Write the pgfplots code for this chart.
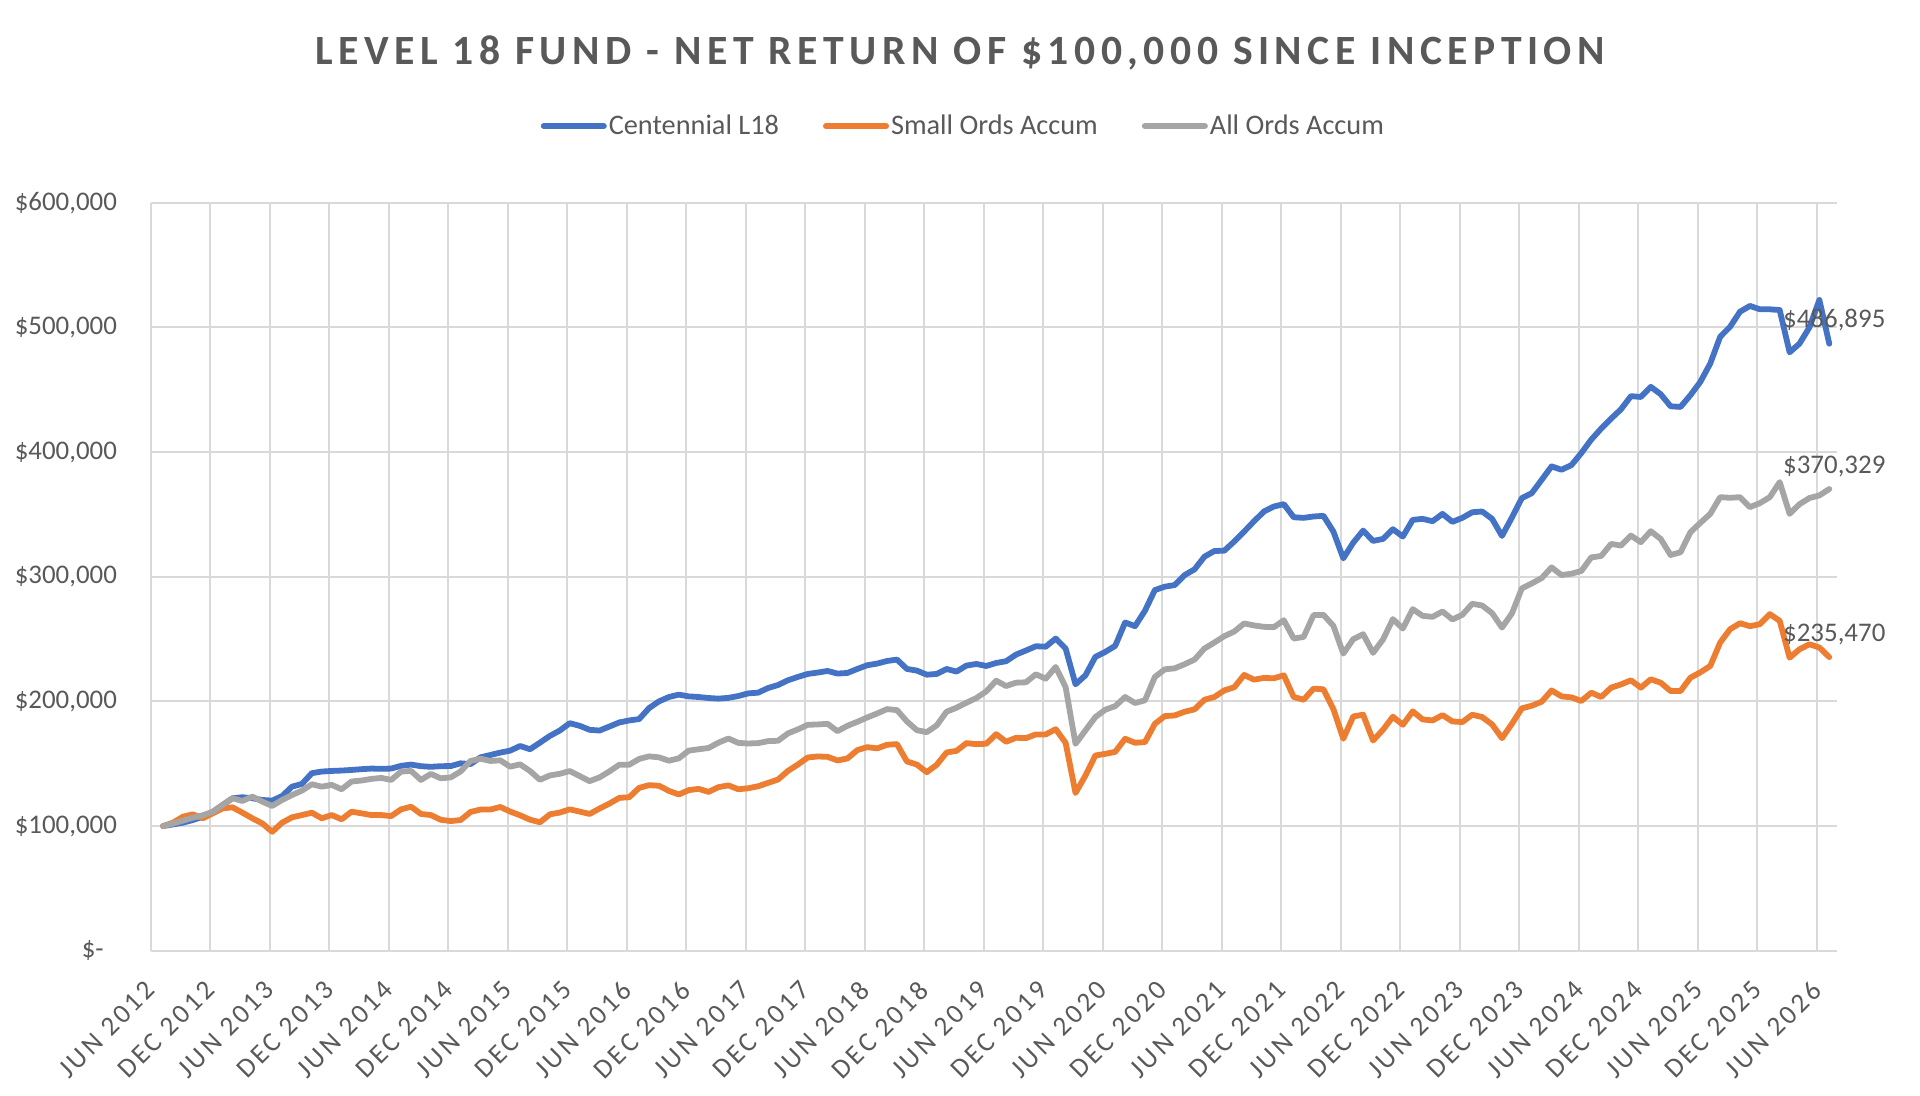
\documentclass[border=0pt]{standalone}
\usepackage{fontspec}
\setmainfont{Carlito}
\newfontfamily\spacedfont[LetterSpace=11]{Carlito}
\newfontfamily\titlefont[LetterSpace=13.2]{Carlito}
\usepackage{pgfplots}
\usepackage{pgfplotstable}
\pgfplotsset{compat=1.18}
\definecolor{cblue}{HTML}{4472C4}
\definecolor{corange}{HTML}{ED7D31}
\definecolor{cgray}{HTML}{A5A5A5}
\definecolor{cgrid}{HTML}{D9D9D9}
\definecolor{ctext}{HTML}{595959}

\pgfplotstableread{
k cen small all
0 100 100 100
1 101.3 102.7 102
2 102.7 107.5 104.3
3 104.8 109.4 106.7
4 107.5 106.2 108.6
5 111.3 110.2 111.5
6 116.9 114.2 116.9
7 122.3 115 122.3
8 123.1 110.7 120.1
9 122.3 106.2 123.6
10 120.9 102.1 119.6
11 120.4 95.4 116.1
12 124.1 102.7 120.9
13 131.6 107 124.9
14 133.8 108.8 128.4
15 142.4 110.7 133.5
16 143.7 106.2 131.6
17 144.2 108.8 133
18 144.5 105.4 129.5
19 145 111.5 135.7
20 145.6 110.2 136.5
21 146.1 108.8 137.8
22 145.9 108.8 138.6
23 146.1 108 137
24 148.3 113.4 143.7
25 149.3 115.5 144.2
26 148 109.7 137
27 147.5 108.8 141.8
28 148 105 138.3
29 148.1 104 139
30 150.3 104.8 143.8
31 149.7 111.3 152.2
32 155.1 113.2 154
33 157 113.2 152.2
34 158.9 115.3 152.7
35 160.5 111.6 147.6
36 164.2 108.6 149.5
37 161.6 105.1 144.1
38 166.9 103 137.1
39 172.3 109.4 140.6
40 176.6 110.8 141.9
41 182.5 113.4 144.1
42 180.4 111.6 140.1
43 177.2 109.7 136
44 176.6 114 139
45 179.8 118 143.8
46 183.1 122.6 149.2
47 184.7 123.1 149.2
48 185.8 130.6 153.8
49 194.6 132.8 155.9
50 200 132.3 155.1
51 203.5 128.2 152.4
52 205.4 125.3 154.3
53 204 128.8 160.5
54 203.5 129.8 161.6
55 202.7 127.4 162.6
56 202.2 131.2 166.9
57 202.8 132.6 170.2
58 204.3 129.5 166.7
59 206.4 130.3 166.2
60 207 131.9 166.5
61 210.7 134.6 168.1
62 213.1 137.3 168.4
63 216.9 144.2 174.3
64 219.6 149.3 177.5
65 222 155 181.2
66 223.1 155.8 181.5
67 224.4 155.5 182
68 222.3 152.6 176.1
69 222.8 154.2 180.4
70 226 160.9 183.6
71 229 163.3 187.1
72 230.3 162.3 190.3
73 232.4 165.2 193.8
74 233.5 165.7 193
75 226 151.8 183.9
76 224.7 149.3 176.9
77 221.4 143.2 175.3
78 222 149.1 180.7
79 226 159 191.7
80 223.9 160.3 194.9
81 228.7 166.5 198.9
82 230 165.7 202.7
83 228.4 166 208
84 230.8 173.7 216.6
85 232.2 167.6 212.3
86 237.5 170.8 215
87 240.8 170.5 215.3
88 244.2 173.5 221.7
89 243.9 173.5 218.2
90 250.4 177.7 227.6
91 242.4 166.8 211.5
92 213.7 126.5 165.9
93 220.9 140.5 176.7
94 235.7 156.6 187.4
95 239.7 157.9 193.3
96 244.5 159.5 196.2
97 263.3 170 203.5
98 260.3 166.8 198.7
99 272.7 167.3 200.8
100 289.3 182 219.6
101 292 188.2 225.7
102 293.3 188.7 226.5
103 301.3 191.7 229.8
104 305.9 193.6 233.5
105 316.1 201.3 242.4
106 320.6 203.5 247.2
107 320.9 208.8 252.3
108 328.2 211.3 256
109 336.2 221.2 262.5
110 344.5 217.4 260.9
111 352.3 218.8 259.8
112 356.3 218.5 259.5
113 358.2 220.9 265.1
114 347.7 203.5 250.4
115 347.2 201.3 251.7
116 348.3 210.2 269.2
117 348.8 209.7 269.4
118 336.2 193.8 260.6
119 314.7 170 238.3
120 327.3 187.9 249.9
121 337 189.3 253.9
122 328.7 168.6 238.9
123 330.3 177.2 249.6
124 338.1 187.7 266
125 332.2 181.2 258.4
126 345.6 192 274
127 346.4 185.5 268.6
128 344.5 184.7 267.8
129 350.4 189 272.1
130 344 183.9 265.7
131 347.2 183.4 269.4
132 351.7 189.3 278.3
133 352.3 187.4 276.9
134 346.4 181.5 270.8
135 332.7 170.5 259.2
136 347.5 182 270.5
137 363 194.4 290.6
138 367 196.5 294.6
139 377.7 199.7 298.9
140 388.5 208.8 307.5
141 385.8 204 301.3
142 389.5 203.2 302.4
143 399.2 200.3 304.6
144 410 207 315.5
145 418.8 203.5 316.6
146 426.8 211 326.3
147 434.3 213.6 325
148 444.8 216.9 333
149 444.2 211 327.7
150 452.3 217.7 336.5
151 446.4 215 330.3
152 436.7 208.3 317.4
153 436.2 208.3 319.6
154 445.6 219 335.7
155 456.3 223.3 343.2
156 471 228.4 350.4
157 492.5 247.2 363.8
158 500.5 257.9 363.3
159 512.6 262.7 363.8
160 517.2 260.3 355.8
161 514.5 261.9 359
162 514.5 270 363.8
163 513.9 264.6 375.9
164 480 235 350.4
165 487 241.8 358.2
166 500 245.8 363.1
167 522 243.2 365.2
168 486.895 235.47 370.329
}\data

\begin{document}
\begin{tikzpicture}
\path[use as bounding box] (0,0) rectangle (960bp,548bp);
\node[anchor=base, text=ctext, inner sep=0pt, font=\fontsize{20.9}{24}\titlefont\bfseries] at (480bp,515.5bp) {LEVEL 18 FUND - NET RETURN OF \$100,000 SINCE INCEPTION};
\begin{axis}[
  at={(75.35bp,72.65bp)}, anchor=south west,
  scale only axis, width=843bp, height=374bp,
  xmin=0, xmax=170, ymin=0, ymax=600,
  clip=false,
  axis x line*=bottom, axis y line*=left,
  axis line style={cgrid, line width=1bp, -},
  major tick length=0pt,
  grid=major,
  major grid style={cgrid, line width=1bp},
  xtick={0,6,...,168},
  xticklabels={JUN 2012,DEC 2012,JUN 2013,DEC 2013,JUN 2014,DEC 2014,JUN 2015,DEC 2015,JUN 2016,DEC 2016,JUN 2017,DEC 2017,JUN 2018,DEC 2018,JUN 2019,DEC 2019,JUN 2020,DEC 2020,JUN 2021,DEC 2021,JUN 2022,DEC 2022,JUN 2023,DEC 2023,JUN 2024,DEC 2024,JUN 2025,DEC 2025,JUN 2026},
  xticklabel style={yshift=-17.5bp, xshift=0bp, rotate=45, anchor=east, inner sep=0pt, font=\fontsize{13.7}{16}\spacedfont, text=ctext},
  ytick={0,100,...,600},
  yticklabels={{\$-\kern6.6bp},{\$100,000},{\$200,000},{\$300,000},{\$400,000},{\$500,000},{\$600,000}},
  yticklabel style={anchor=east, inner sep=0pt, xshift=-16.7bp, font=\fontsize{13.5}{16}\selectfont, text=ctext},
  legend columns=3,
  legend style={at={(0.482,1.1025)}, anchor=center, draw=none, fill=none,
    font=\fontsize{14.2}{17}\selectfont, text=ctext,
    nodes={inner sep=1bp},
    /tikz/every even column/.append style={column sep=21bp}},
  legend image code/.code={\draw[#1, line width=3bp, line cap=round] (1.5bp,0bp) -- (31.5bp,0bp);},
]
\addplot[cblue, line width=2.9bp, line join=round, line cap=round] table[x expr=\thisrow{k}+1.25, y=cen] {\data};
\addlegendentry{Centennial L18}
\addplot[corange, line width=2.9bp, line join=round, line cap=round] table[x expr=\thisrow{k}+1.25, y=small] {\data};
\addlegendentry{Small Ords Accum}
\addplot[cgray, line width=2.9bp, line join=round, line cap=round] table[x expr=\thisrow{k}+1.25, y=all] {\data};
\addlegendentry{All Ords Accum}
\node[anchor=south, inner sep=0pt, xshift=2.5bp, yshift=6bp, text=ctext, font=\fontsize{13.5}{16}\selectfont] at (axis cs:169.25,486.895) {\$486,895};
\node[anchor=south, inner sep=0pt, xshift=2.5bp, yshift=6bp, text=ctext, font=\fontsize{13.5}{16}\selectfont] at (axis cs:169.25,370.329) {\$370,329};
\node[anchor=south, inner sep=0pt, xshift=2.5bp, yshift=6bp, text=ctext, font=\fontsize{13.5}{16}\selectfont] at (axis cs:169.25,235.47) {\$235,470};
\end{axis}
\end{tikzpicture}
\end{document}
